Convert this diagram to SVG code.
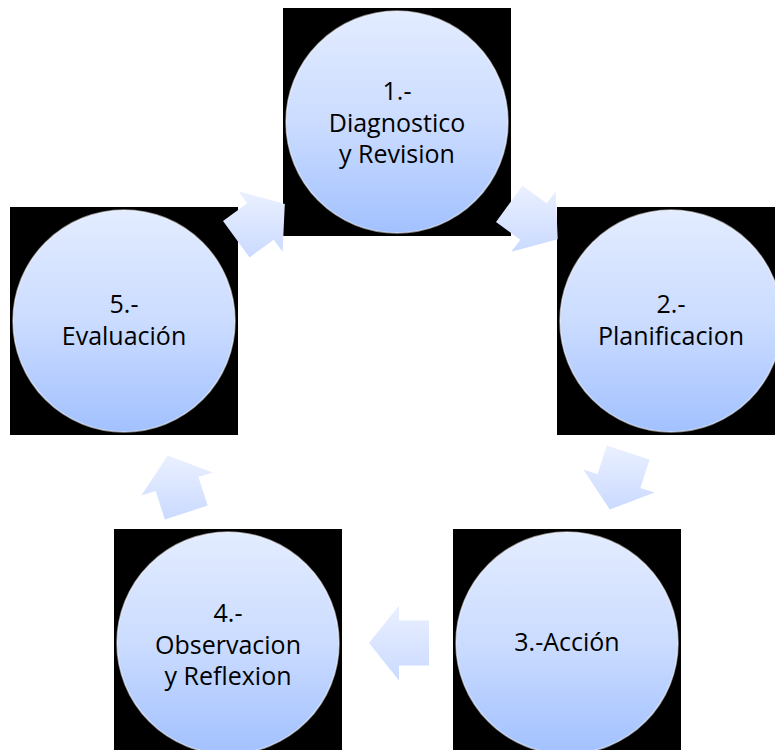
<svg xmlns="http://www.w3.org/2000/svg" width="775" height="750" viewBox="0 0 775 750">
  <defs>
    <linearGradient id="circleGrad" x1="0" y1="0" x2="0" y2="1">
      <stop offset="0" stop-color="#e3ecff"/>
      <stop offset="0.5" stop-color="#cbdcff"/>
      <stop offset="1" stop-color="#a2c1ff"/>
    </linearGradient>
    <linearGradient id="arrowGrad" x1="0" y1="0" x2="0" y2="1">
      <stop offset="0" stop-color="#eaf0ff"/>
      <stop offset="1" stop-color="#cadaff"/>
    </linearGradient>
    <style>
      .bg { fill: #000000; }
      .circle { fill: url(#circleGrad); stroke: #ffffff; stroke-opacity: 0.55; stroke-width: 1.5; }
      .label { font-family: "Open Sans", "Noto Sans", sans-serif; font-size: 25px; fill: #000000; text-anchor: middle; }
      .arrow { fill: url(#arrowGrad); }
    </style>
  </defs>
  <rect width="775" height="750" fill="#ffffff"/>

  <g id="node1">
    <rect class="bg" x="283" y="8" width="228" height="228"/>
    <circle class="circle" cx="397" cy="122" r="111"/>
    <text class="label" x="397" y="100">1.-</text>
    <text class="label" x="397" y="132">Diagnostico</text>
    <text class="label" x="397" y="163">y Revision</text>
  </g>

  <g id="node2">
    <rect class="bg" x="557" y="207" width="228" height="228"/>
    <circle class="circle" cx="671" cy="321" r="111"/>
    <text class="label" x="671" y="313">2.-</text>
    <text class="label" x="671" y="345">Planificacion</text>
  </g>

  <g id="node3">
    <rect class="bg" x="453" y="529" width="228" height="228"/>
    <circle class="circle" cx="567" cy="643" r="111"/>
    <text class="label" x="567" y="651">3.-Acción</text>
  </g>

  <g id="node4">
    <rect class="bg" x="114" y="529" width="228" height="228"/>
    <circle class="circle" cx="228" cy="643" r="111"/>
    <text class="label" x="228" y="622">4.-</text>
    <text class="label" x="228" y="654">Observacion</text>
    <text class="label" x="228" y="685">y Reflexion</text>
  </g>

  <g id="node5">
    <rect class="bg" x="10" y="207" width="228" height="228"/>
    <circle class="circle" cx="124" cy="321" r="111"/>
    <text class="label" x="124" y="313">5.-</text>
    <text class="label" x="124" y="345">Evaluación</text>
  </g>

  <g id="connectors">
    <polygon id="arrow1-2" class="arrow" points="522.5,185.7 546.8,203.3 555.6,191.2 557.7,239.2 511.4,251.8 520.3,239.7 496,222"/>
    <polygon id="arrow2-3" class="arrow" points="649.6,459.4 640.4,487.9 654.7,492.5 609.8,509.6 583.3,469.5 597.6,474.1 606.8,445.5"/>
    <polygon id="arrow3-4" class="arrow" points="429,620.5 399,620.5 399,605.5 369,643 399,680.5 399,665.5 429,665.5"/>
    <polygon id="arrow4-5" class="arrow" points="164.9,519.5 155.6,491 141.3,495.6 167.7,455.5 212.7,472.4 198.4,477 207.7,505.6"/>
    <polygon id="arrow5-1" class="arrow" points="223,221 247.3,203.3 238.4,191.2 284.8,203.9 282.6,251.8 273.7,239.7 249.5,257.4"/>
  </g>
</svg>
